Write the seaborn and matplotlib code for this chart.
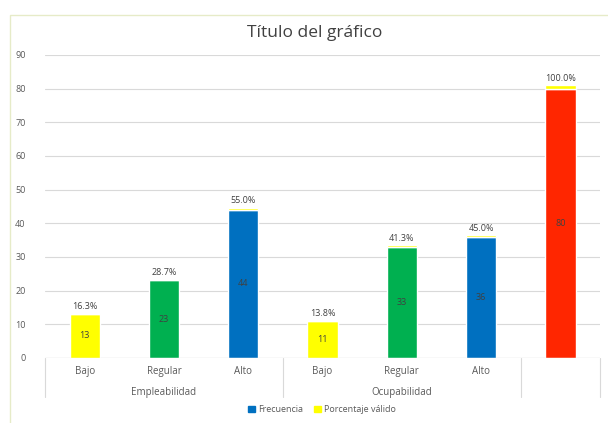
import matplotlib
matplotlib.use("Agg")
import matplotlib.pyplot as plt
import seaborn as sns
import pandas as pd
from matplotlib.patches import Rectangle, Patch
from matplotlib.lines import Line2D

# datos
categorias = ['Bajo', 'Regular', 'Alto', 'Bajo ', 'Regular ', 'Alto ', '']
grupos = ['Empleabilidad', 'Ocupabilidad', '']
frecuencia = [13, 23, 44, 11, 33, 36, 80]
porcentaje = [16.3, 28.7, 55.0, 13.8, 41.3, 45.0, 100.0]
colores = ['#FFFF00', '#00B050', '#0070C0', '#FFFF00', '#00B050', '#0070C0', '#FF2600']

df = pd.DataFrame({'cat': categorias, 'frec': frecuencia, 'pct': porcentaje})

sns.set_style('white')
plt.rcParams['font.family'] = ['Open Sans', 'DejaVu Sans']

fig = plt.figure(figsize=(6.08, 4.23), dpi=100)
ax = fig.add_axes([0.074, 0.154, 0.913, 0.716])

sns.barplot(data=df, x='cat', y='frec', hue='cat', palette=colores, legend=False,
            width=0.38, ax=ax, saturation=1)

# porcentaje valido apilado (en fraccion)
xs = range(len(categorias))
ax.bar(xs, [p / 100 for p in porcentaje], bottom=frecuencia, width=0.38,
       color='#FFFF00', zorder=3)

for i in xs:
    ax.text(i, frecuencia[i] / 2, str(frecuencia[i]), ha='center', va='center',
            fontsize=6.5, color='#404040')
    ax.text(i, frecuencia[i] + porcentaje[i] / 100 + 0.8, f'{porcentaje[i]:.1f}%',
            ha='center', va='bottom', fontsize=6.5, color='#404040')

ax.set_ylim(0, 90)
ax.set_xlim(-0.5, 6.5)
ax.set_yticks(range(0, 91, 10))
ax.yaxis.grid(True, color='#D9D9D9', linewidth=0.8)
ax.set_axisbelow(True)
for s in ax.spines.values():
    s.set_visible(False)
ax.axhline(0, color='#BFBFBF', linewidth=0.8)
ax.tick_params(axis='y', length=0, labelsize=6.5, labelcolor='#595959', pad=14)
ax.set_xticks([])
ax.set_xlabel('')
ax.set_ylabel('')

# etiquetas de categoria y grupo
for i, c in enumerate(categorias):
    ax.text(i, -4.2, c.strip(), ha='center', va='center', fontsize=7,
            color='#595959', clip_on=False)
for j, g in enumerate(grupos[:2]):
    ax.text(1 + 3 * j, -10.2, g, ha='center', va='center', fontsize=7,
            color='#595959', clip_on=False)
for xb in [-0.5, 2.5, 5.5, 6.5]:
    ax.add_line(Line2D([xb, xb], [0, -11.7], color='#D9D9D9', linewidth=0.8,
                       clip_on=False))

fig.text(0.518, 0.922, 'Título del gráfico', ha='center', va='center',
         fontsize=12.5, color='#404040')

fig.patches.append(Rectangle((0.017, -0.01), 1.0, 0.975, transform=fig.transFigure,
                             fill=False, edgecolor='#E6EBC8', linewidth=1))

handles = [Patch(color='#0070C0', label='Frecuencia'),
           Patch(color='#FFFF00', label='Porcentaje válido')]
fig.legend(handles=handles, loc='center', bbox_to_anchor=(0.53, 0.031), ncol=2,
           frameon=False, fontsize=6.5, handlelength=0.7, handleheight=0.7,
           columnspacing=1.2, handletextpad=0.4, labelcolor='#595959')

fig.savefig('out.png', dpi=100, facecolor='white')
